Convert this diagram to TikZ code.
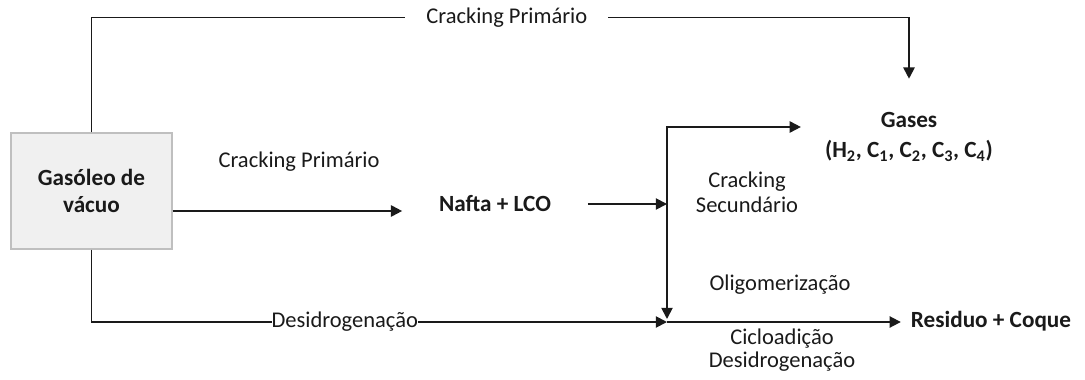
\documentclass[tikz,border=0pt]{standalone}
\usepackage{fontspec}
\setmainfont{Carlito}
\usetikzlibrary{arrows.meta, positioning, calc}
\definecolor{LineColor}{HTML}{1A1A1A}
\definecolor{BoxFill}{HTML}{F0F0F0}
\definecolor{BoxDraw}{HTML}{BFBFBF}
\definecolor{TextDark}{HTML}{1A1A1A}

\begin{document}
\begin{tikzpicture}[
    x=0.025cm, y=0.025cm,
    feed/.style={rectangle, draw=BoxDraw, fill=BoxFill, line width=0.8pt, minimum width=4.025cm, minimum height=2.9cm, align=center, font=\fontsize{16.5}{19}\selectfont\bfseries, text=TextDark},
    prod/.style={align=center, font=\fontsize{16.5}{21}\selectfont\bfseries, text=TextDark},
    lbl/.style={align=center, font=\fontsize{16}{18}\selectfont, text=TextDark},
    onln/.style={lbl, fill=white, inner ysep=1pt},
    arr/.style={-{Triangle[length=8pt, width=8pt]}, line width=1.3pt, LineColor},
    arrboth/.style={{Triangle[length=8pt, width=8pt]}-{Triangle[length=8pt, width=8pt]}, line width=1.3pt, LineColor}
  ]
  \useasboundingbox (0,0) rectangle (1085,-380);

  % feed and products
  \node[feed] (gasoleo) at (91.5,-191) {Gasóleo de\\vácuo};
  \node[prod, inner xsep=26pt] (nafta) at (495,-204) {Nafta + LCO};
  \node[prod, inner xsep=17pt, inner ysep=24pt] (gases) at (909,-137) {Gases\\(H\textsubscript{2}, C\textsubscript{1}, C\textsubscript{2}, C\textsubscript{3}, C\textsubscript{4})};
  \node[prod, inner xsep=7pt] (residuo) at (991,-321) {Residuo + Coque};

  % junction points
  \coordinate (jtop) at (667,-127);
  \coordinate (jbot) at (667,-322);
  \coordinate (feedout) at ($(gasoleo.east)+(0,-20)$);

  % free labels
  \node[lbl] (crackA) at (299,-162) {Cracking Primário};
  \node[lbl] (crackB) at (747,-192) {Cracking\\Secundário};
  \node[lbl] (oligo) at (780,-285) {Oligomerização};
  \node[lbl, font=\fontsize{16}{16}\selectfont] (ciclo) at (782,-350) {Cicloadição\\Desidrogenação};

  % connectors
  \draw[arr] (gasoleo.north) -- ++(0,115) -| node[onln, pos=0.254, inner xsep=15pt] {Cracking Primário} (gases.north);
  \draw[arr] (feedout) -- (feedout -| nafta.west);
  \draw[arr] (nafta.east) -- (nafta.east -| jtop);
  \draw[arrboth] ($(jbot)+(0,3)$) -- (jtop) -- (jtop -| gases.west);
  \draw[arr] (gasoleo.south) |- node[onln, pos=0.72, inner xsep=0pt] {Desidrogenação} (jbot);
  \draw[arr] (jbot) -- (jbot -| residuo.west);
\end{tikzpicture}
\end{document}
